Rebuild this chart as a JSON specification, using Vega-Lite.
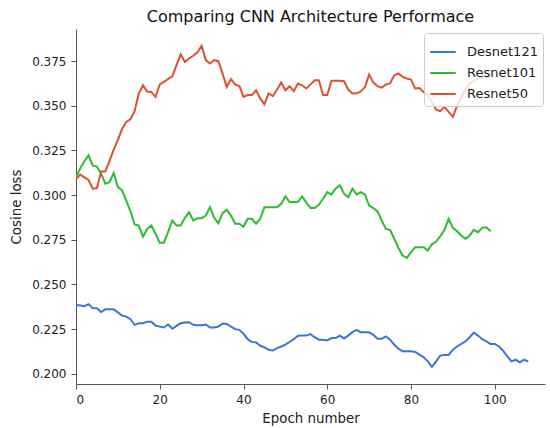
{
  "$schema": "https://vega.github.io/schema/vega-lite/v6.json",
  "autosize": "none",
  "width": 469,
  "height": 355,
  "padding": {"left": 76, "top": 29, "right": 5, "bottom": 44},
  "config": {
    "font": "DejaVu Sans",
    "view": {"stroke": null},
    "axis": {"grid": false, "domainColor": "#555", "tickColor": "#555", "tickSize": 5, "labelColor": "#222", "labelFontSize": 12, "titleFontSize": 13.4, "titleFontWeight": "normal", "titleColor": "#222", "labelPadding": 5}
  },
  "title": {"text": "Comparing CNN Architecture Performace", "fontSize": 16, "fontWeight": "normal", "color": "#111", "offset": 4, "anchor": "middle"},
  "data": {"values": [
{"epoch":0,"loss":0.2385,"model":"Desnet121"},{"epoch":1,"loss":0.2382,"model":"Desnet121"},{"epoch":2,"loss":0.2379,"model":"Desnet121"},{"epoch":3,"loss":0.239,"model":"Desnet121"},{"epoch":4,"loss":0.2367,"model":"Desnet121"},{"epoch":5,"loss":0.2367,"model":"Desnet121"},{"epoch":6,"loss":0.2346,"model":"Desnet121"},{"epoch":7,"loss":0.2361,"model":"Desnet121"},{"epoch":8,"loss":0.2361,"model":"Desnet121"},{"epoch":9,"loss":0.2361,"model":"Desnet121"},
{"epoch":10,"loss":0.2344,"model":"Desnet121"},{"epoch":11,"loss":0.2326,"model":"Desnet121"},{"epoch":12,"loss":0.232,"model":"Desnet121"},{"epoch":13,"loss":0.2306,"model":"Desnet121"},{"epoch":14,"loss":0.2274,"model":"Desnet121"},{"epoch":15,"loss":0.2283,"model":"Desnet121"},{"epoch":16,"loss":0.2283,"model":"Desnet121"},{"epoch":17,"loss":0.2292,"model":"Desnet121"},{"epoch":18,"loss":0.2292,"model":"Desnet121"},{"epoch":19,"loss":0.227,"model":"Desnet121"},
{"epoch":20,"loss":0.2264,"model":"Desnet121"},{"epoch":21,"loss":0.2259,"model":"Desnet121"},{"epoch":22,"loss":0.2276,"model":"Desnet121"},{"epoch":23,"loss":0.2252,"model":"Desnet121"},{"epoch":24,"loss":0.2268,"model":"Desnet121"},{"epoch":25,"loss":0.2283,"model":"Desnet121"},{"epoch":26,"loss":0.2287,"model":"Desnet121"},{"epoch":27,"loss":0.2289,"model":"Desnet121"},{"epoch":28,"loss":0.2274,"model":"Desnet121"},{"epoch":29,"loss":0.2272,"model":"Desnet121"},
{"epoch":30,"loss":0.2272,"model":"Desnet121"},{"epoch":31,"loss":0.2276,"model":"Desnet121"},{"epoch":32,"loss":0.2259,"model":"Desnet121"},{"epoch":33,"loss":0.2259,"model":"Desnet121"},{"epoch":34,"loss":0.2264,"model":"Desnet121"},{"epoch":35,"loss":0.2281,"model":"Desnet121"},{"epoch":36,"loss":0.2279,"model":"Desnet121"},{"epoch":37,"loss":0.2264,"model":"Desnet121"},{"epoch":38,"loss":0.225,"model":"Desnet121"},{"epoch":39,"loss":0.2246,"model":"Desnet121"},
{"epoch":40,"loss":0.2224,"model":"Desnet121"},{"epoch":41,"loss":0.2194,"model":"Desnet121"},{"epoch":42,"loss":0.2178,"model":"Desnet121"},{"epoch":43,"loss":0.2176,"model":"Desnet121"},{"epoch":44,"loss":0.2157,"model":"Desnet121"},{"epoch":45,"loss":0.2148,"model":"Desnet121"},{"epoch":46,"loss":0.2135,"model":"Desnet121"},{"epoch":47,"loss":0.2131,"model":"Desnet121"},{"epoch":48,"loss":0.2144,"model":"Desnet121"},{"epoch":49,"loss":0.2153,"model":"Desnet121"},
{"epoch":50,"loss":0.2163,"model":"Desnet121"},{"epoch":51,"loss":0.2178,"model":"Desnet121"},{"epoch":52,"loss":0.2194,"model":"Desnet121"},{"epoch":53,"loss":0.2213,"model":"Desnet121"},{"epoch":54,"loss":0.2214,"model":"Desnet121"},{"epoch":55,"loss":0.2214,"model":"Desnet121"},{"epoch":56,"loss":0.2222,"model":"Desnet121"},{"epoch":57,"loss":0.2205,"model":"Desnet121"},{"epoch":58,"loss":0.2191,"model":"Desnet121"},{"epoch":59,"loss":0.2191,"model":"Desnet121"},
{"epoch":60,"loss":0.2187,"model":"Desnet121"},{"epoch":61,"loss":0.22,"model":"Desnet121"},{"epoch":62,"loss":0.22,"model":"Desnet121"},{"epoch":63,"loss":0.2214,"model":"Desnet121"},{"epoch":64,"loss":0.2198,"model":"Desnet121"},{"epoch":65,"loss":0.2214,"model":"Desnet121"},{"epoch":66,"loss":0.2233,"model":"Desnet121"},{"epoch":67,"loss":0.2246,"model":"Desnet121"},{"epoch":68,"loss":0.2233,"model":"Desnet121"},{"epoch":69,"loss":0.2233,"model":"Desnet121"},
{"epoch":70,"loss":0.2233,"model":"Desnet121"},{"epoch":71,"loss":0.2218,"model":"Desnet121"},{"epoch":72,"loss":0.2196,"model":"Desnet121"},{"epoch":73,"loss":0.2196,"model":"Desnet121"},{"epoch":74,"loss":0.2209,"model":"Desnet121"},{"epoch":75,"loss":0.2191,"model":"Desnet121"},{"epoch":76,"loss":0.2163,"model":"Desnet121"},{"epoch":77,"loss":0.2141,"model":"Desnet121"},{"epoch":78,"loss":0.2126,"model":"Desnet121"},{"epoch":79,"loss":0.2126,"model":"Desnet121"},
{"epoch":80,"loss":0.2126,"model":"Desnet121"},{"epoch":81,"loss":0.2122,"model":"Desnet121"},{"epoch":82,"loss":0.2107,"model":"Desnet121"},{"epoch":83,"loss":0.2094,"model":"Desnet121"},{"epoch":84,"loss":0.207,"model":"Desnet121"},{"epoch":85,"loss":0.2039,"model":"Desnet121"},{"epoch":86,"loss":0.207,"model":"Desnet121"},{"epoch":87,"loss":0.2102,"model":"Desnet121"},{"epoch":88,"loss":0.2106,"model":"Desnet121"},{"epoch":89,"loss":0.2106,"model":"Desnet121"},
{"epoch":90,"loss":0.2135,"model":"Desnet121"},{"epoch":91,"loss":0.2153,"model":"Desnet121"},{"epoch":92,"loss":0.2167,"model":"Desnet121"},{"epoch":93,"loss":0.2181,"model":"Desnet121"},{"epoch":94,"loss":0.2205,"model":"Desnet121"},{"epoch":95,"loss":0.2231,"model":"Desnet121"},{"epoch":96,"loss":0.2214,"model":"Desnet121"},{"epoch":97,"loss":0.2194,"model":"Desnet121"},{"epoch":98,"loss":0.2181,"model":"Desnet121"},{"epoch":99,"loss":0.2167,"model":"Desnet121"},
{"epoch":100,"loss":0.2167,"model":"Desnet121"},{"epoch":101,"loss":0.2153,"model":"Desnet121"},{"epoch":102,"loss":0.2129,"model":"Desnet121"},{"epoch":103,"loss":0.2098,"model":"Desnet121"},{"epoch":104,"loss":0.207,"model":"Desnet121"},{"epoch":105,"loss":0.2079,"model":"Desnet121"},{"epoch":106,"loss":0.2064,"model":"Desnet121"},{"epoch":107,"loss":0.2079,"model":"Desnet121"},{"epoch":108,"loss":0.207,"model":"Desnet121"},
{"epoch":0,"loss":0.31,"model":"Resnet101"},{"epoch":1,"loss":0.315,"model":"Resnet101"},{"epoch":2,"loss":0.319,"model":"Resnet101"},{"epoch":3,"loss":0.3223,"model":"Resnet101"},{"epoch":4,"loss":0.3165,"model":"Resnet101"},{"epoch":5,"loss":0.316,"model":"Resnet101"},{"epoch":6,"loss":0.312,"model":"Resnet101"},{"epoch":7,"loss":0.3064,"model":"Resnet101"},{"epoch":8,"loss":0.3073,"model":"Resnet101"},{"epoch":9,"loss":0.3124,"model":"Resnet101"},
{"epoch":10,"loss":0.3045,"model":"Resnet101"},{"epoch":11,"loss":0.3027,"model":"Resnet101"},{"epoch":12,"loss":0.297,"model":"Resnet101"},{"epoch":13,"loss":0.291,"model":"Resnet101"},{"epoch":14,"loss":0.2836,"model":"Resnet101"},{"epoch":15,"loss":0.283,"model":"Resnet101"},{"epoch":16,"loss":0.2768,"model":"Resnet101"},{"epoch":17,"loss":0.2811,"model":"Resnet101"},{"epoch":18,"loss":0.283,"model":"Resnet101"},{"epoch":19,"loss":0.2784,"model":"Resnet101"},
{"epoch":20,"loss":0.2733,"model":"Resnet101"},{"epoch":21,"loss":0.2733,"model":"Resnet101"},{"epoch":22,"loss":0.2795,"model":"Resnet101"},{"epoch":23,"loss":0.2858,"model":"Resnet101"},{"epoch":24,"loss":0.283,"model":"Resnet101"},{"epoch":25,"loss":0.283,"model":"Resnet101"},{"epoch":26,"loss":0.2873,"model":"Resnet101"},{"epoch":27,"loss":0.2905,"model":"Resnet101"},{"epoch":28,"loss":0.2858,"model":"Resnet101"},{"epoch":29,"loss":0.2871,"model":"Resnet101"},
{"epoch":30,"loss":0.2871,"model":"Resnet101"},{"epoch":31,"loss":0.2886,"model":"Resnet101"},{"epoch":32,"loss":0.2933,"model":"Resnet101"},{"epoch":33,"loss":0.2873,"model":"Resnet101"},{"epoch":34,"loss":0.2843,"model":"Resnet101"},{"epoch":35,"loss":0.2899,"model":"Resnet101"},{"epoch":36,"loss":0.2918,"model":"Resnet101"},{"epoch":37,"loss":0.2886,"model":"Resnet101"},{"epoch":38,"loss":0.284,"model":"Resnet101"},{"epoch":39,"loss":0.284,"model":"Resnet101"},
{"epoch":40,"loss":0.2823,"model":"Resnet101"},{"epoch":41,"loss":0.2868,"model":"Resnet101"},{"epoch":42,"loss":0.2868,"model":"Resnet101"},{"epoch":43,"loss":0.284,"model":"Resnet101"},{"epoch":44,"loss":0.2868,"model":"Resnet101"},{"epoch":45,"loss":0.2933,"model":"Resnet101"},{"epoch":46,"loss":0.2933,"model":"Resnet101"},{"epoch":47,"loss":0.2933,"model":"Resnet101"},{"epoch":48,"loss":0.2933,"model":"Resnet101"},{"epoch":49,"loss":0.2952,"model":"Resnet101"},
{"epoch":50,"loss":0.2993,"model":"Resnet101"},{"epoch":51,"loss":0.2961,"model":"Resnet101"},{"epoch":52,"loss":0.2961,"model":"Resnet101"},{"epoch":53,"loss":0.2962,"model":"Resnet101"},{"epoch":54,"loss":0.2993,"model":"Resnet101"},{"epoch":55,"loss":0.2958,"model":"Resnet101"},{"epoch":56,"loss":0.2928,"model":"Resnet101"},{"epoch":57,"loss":0.2928,"model":"Resnet101"},{"epoch":58,"loss":0.2946,"model":"Resnet101"},{"epoch":59,"loss":0.298,"model":"Resnet101"},
{"epoch":60,"loss":0.3017,"model":"Resnet101"},{"epoch":61,"loss":0.3004,"model":"Resnet101"},{"epoch":62,"loss":0.3036,"model":"Resnet101"},{"epoch":63,"loss":0.3055,"model":"Resnet101"},{"epoch":64,"loss":0.3008,"model":"Resnet101"},{"epoch":65,"loss":0.2989,"model":"Resnet101"},{"epoch":66,"loss":0.3036,"model":"Resnet101"},{"epoch":67,"loss":0.3004,"model":"Resnet101"},{"epoch":68,"loss":0.3017,"model":"Resnet101"},{"epoch":69,"loss":0.3004,"model":"Resnet101"},
{"epoch":70,"loss":0.2942,"model":"Resnet101"},{"epoch":71,"loss":0.2928,"model":"Resnet101"},{"epoch":72,"loss":0.2909,"model":"Resnet101"},{"epoch":73,"loss":0.2858,"model":"Resnet101"},{"epoch":74,"loss":0.2811,"model":"Resnet101"},{"epoch":75,"loss":0.2806,"model":"Resnet101"},{"epoch":76,"loss":0.2756,"model":"Resnet101"},{"epoch":77,"loss":0.2705,"model":"Resnet101"},{"epoch":78,"loss":0.2662,"model":"Resnet101"},{"epoch":79,"loss":0.2649,"model":"Resnet101"},
{"epoch":80,"loss":0.268,"model":"Resnet101"},{"epoch":81,"loss":0.2709,"model":"Resnet101"},{"epoch":82,"loss":0.2709,"model":"Resnet101"},{"epoch":83,"loss":0.2709,"model":"Resnet101"},{"epoch":84,"loss":0.269,"model":"Resnet101"},{"epoch":85,"loss":0.2725,"model":"Resnet101"},{"epoch":86,"loss":0.274,"model":"Resnet101"},{"epoch":87,"loss":0.277,"model":"Resnet101"},{"epoch":88,"loss":0.2806,"model":"Resnet101"},{"epoch":89,"loss":0.2868,"model":"Resnet101"},
{"epoch":90,"loss":0.2817,"model":"Resnet101"},{"epoch":91,"loss":0.2798,"model":"Resnet101"},{"epoch":92,"loss":0.2774,"model":"Resnet101"},{"epoch":93,"loss":0.2756,"model":"Resnet101"},{"epoch":94,"loss":0.2774,"model":"Resnet101"},{"epoch":95,"loss":0.2806,"model":"Resnet101"},{"epoch":96,"loss":0.2793,"model":"Resnet101"},{"epoch":97,"loss":0.2817,"model":"Resnet101"},{"epoch":98,"loss":0.282,"model":"Resnet101"},{"epoch":99,"loss":0.2798,"model":"Resnet101"},
{"epoch":0,"loss":0.309,"model":"Resnet50"},{"epoch":1,"loss":0.3115,"model":"Resnet50"},{"epoch":2,"loss":0.31,"model":"Resnet50"},{"epoch":3,"loss":0.3085,"model":"Resnet50"},{"epoch":4,"loss":0.3036,"model":"Resnet50"},{"epoch":5,"loss":0.304,"model":"Resnet50"},{"epoch":6,"loss":0.3133,"model":"Resnet50"},{"epoch":7,"loss":0.3133,"model":"Resnet50"},{"epoch":8,"loss":0.319,"model":"Resnet50"},{"epoch":9,"loss":0.3255,"model":"Resnet50"},
{"epoch":10,"loss":0.331,"model":"Resnet50"},{"epoch":11,"loss":0.337,"model":"Resnet50"},{"epoch":12,"loss":0.341,"model":"Resnet50"},{"epoch":13,"loss":0.3425,"model":"Resnet50"},{"epoch":14,"loss":0.347,"model":"Resnet50"},{"epoch":15,"loss":0.357,"model":"Resnet50"},{"epoch":16,"loss":0.3615,"model":"Resnet50"},{"epoch":17,"loss":0.358,"model":"Resnet50"},{"epoch":18,"loss":0.3578,"model":"Resnet50"},{"epoch":19,"loss":0.355,"model":"Resnet50"},
{"epoch":20,"loss":0.362,"model":"Resnet50"},{"epoch":21,"loss":0.3634,"model":"Resnet50"},{"epoch":22,"loss":0.365,"model":"Resnet50"},{"epoch":23,"loss":0.3665,"model":"Resnet50"},{"epoch":24,"loss":0.3728,"model":"Resnet50"},{"epoch":25,"loss":0.3788,"model":"Resnet50"},{"epoch":26,"loss":0.3746,"model":"Resnet50"},{"epoch":27,"loss":0.3765,"model":"Resnet50"},{"epoch":28,"loss":0.378,"model":"Resnet50"},{"epoch":29,"loss":0.38,"model":"Resnet50"},
{"epoch":30,"loss":0.3836,"model":"Resnet50"},{"epoch":31,"loss":0.3756,"model":"Resnet50"},{"epoch":32,"loss":0.3737,"model":"Resnet50"},{"epoch":33,"loss":0.3756,"model":"Resnet50"},{"epoch":34,"loss":0.375,"model":"Resnet50"},{"epoch":35,"loss":0.368,"model":"Resnet50"},{"epoch":36,"loss":0.3606,"model":"Resnet50"},{"epoch":37,"loss":0.365,"model":"Resnet50"},{"epoch":38,"loss":0.362,"model":"Resnet50"},{"epoch":39,"loss":0.3611,"model":"Resnet50"},
{"epoch":40,"loss":0.355,"model":"Resnet50"},{"epoch":41,"loss":0.356,"model":"Resnet50"},{"epoch":42,"loss":0.356,"model":"Resnet50"},{"epoch":43,"loss":0.3587,"model":"Resnet50"},{"epoch":44,"loss":0.354,"model":"Resnet50"},{"epoch":45,"loss":0.3509,"model":"Resnet50"},{"epoch":46,"loss":0.3569,"model":"Resnet50"},{"epoch":47,"loss":0.3554,"model":"Resnet50"},{"epoch":48,"loss":0.3591,"model":"Resnet50"},{"epoch":49,"loss":0.363,"model":"Resnet50"},
{"epoch":50,"loss":0.3587,"model":"Resnet50"},{"epoch":51,"loss":0.361,"model":"Resnet50"},{"epoch":52,"loss":0.3582,"model":"Resnet50"},{"epoch":53,"loss":0.3625,"model":"Resnet50"},{"epoch":54,"loss":0.3615,"model":"Resnet50"},{"epoch":55,"loss":0.3597,"model":"Resnet50"},{"epoch":56,"loss":0.362,"model":"Resnet50"},{"epoch":57,"loss":0.3643,"model":"Resnet50"},{"epoch":58,"loss":0.3643,"model":"Resnet50"},{"epoch":59,"loss":0.356,"model":"Resnet50"},
{"epoch":60,"loss":0.356,"model":"Resnet50"},{"epoch":61,"loss":0.364,"model":"Resnet50"},{"epoch":62,"loss":0.364,"model":"Resnet50"},{"epoch":63,"loss":0.364,"model":"Resnet50"},{"epoch":64,"loss":0.3638,"model":"Resnet50"},{"epoch":65,"loss":0.3591,"model":"Resnet50"},{"epoch":66,"loss":0.3569,"model":"Resnet50"},{"epoch":67,"loss":0.357,"model":"Resnet50"},{"epoch":68,"loss":0.358,"model":"Resnet50"},{"epoch":69,"loss":0.3605,"model":"Resnet50"},
{"epoch":70,"loss":0.3675,"model":"Resnet50"},{"epoch":71,"loss":0.363,"model":"Resnet50"},{"epoch":72,"loss":0.361,"model":"Resnet50"},{"epoch":73,"loss":0.3602,"model":"Resnet50"},{"epoch":74,"loss":0.362,"model":"Resnet50"},{"epoch":75,"loss":0.3625,"model":"Resnet50"},{"epoch":76,"loss":0.3671,"model":"Resnet50"},{"epoch":77,"loss":0.3681,"model":"Resnet50"},{"epoch":78,"loss":0.3662,"model":"Resnet50"},{"epoch":79,"loss":0.3653,"model":"Resnet50"},
{"epoch":80,"loss":0.3647,"model":"Resnet50"},{"epoch":81,"loss":0.3597,"model":"Resnet50"},{"epoch":82,"loss":0.36,"model":"Resnet50"},{"epoch":83,"loss":0.3578,"model":"Resnet50"},{"epoch":84,"loss":0.356,"model":"Resnet50"},{"epoch":85,"loss":0.352,"model":"Resnet50"},{"epoch":86,"loss":0.3479,"model":"Resnet50"},{"epoch":87,"loss":0.347,"model":"Resnet50"},{"epoch":88,"loss":0.3494,"model":"Resnet50"},{"epoch":89,"loss":0.3466,"model":"Resnet50"},
{"epoch":90,"loss":0.3438,"model":"Resnet50"},{"epoch":91,"loss":0.35,"model":"Resnet50"},{"epoch":92,"loss":0.355,"model":"Resnet50"},{"epoch":93,"loss":0.359,"model":"Resnet50"},{"epoch":94,"loss":0.3625,"model":"Resnet50"},{"epoch":95,"loss":0.364,"model":"Resnet50"},{"epoch":96,"loss":0.3653,"model":"Resnet50"},{"epoch":97,"loss":0.366,"model":"Resnet50"},{"epoch":98,"loss":0.3662,"model":"Resnet50"},{"epoch":99,"loss":0.3662,"model":"Resnet50"}
  ]},
  "mark": {"type": "line", "strokeWidth": 2, "clip": true},
  "encoding": {
    "x": {"field": "epoch", "type": "quantitative", "title": "Epoch number",
      "scale": {"domain": [0, 112], "nice": false, "zero": false},
      "axis": {"values": [0, 20, 40, 60, 80, 100], "titlePadding": 6}},
    "y": {"field": "loss", "type": "quantitative", "title": "Cosine loss",
      "scale": {"domain": [0.1943, 0.393], "nice": false, "zero": false},
      "axis": {"values": [0.2, 0.225, 0.25, 0.275, 0.3, 0.325, 0.35, 0.375], "format": ".3f", "titlePadding": 8}},
    "color": {"field": "model", "type": "nominal",
      "scale": {"domain": ["Desnet121", "Resnet101", "Resnet50"], "range": ["#3a75d8", "#2cbc2c", "#e0502e"]},
      "legend": {"title": null, "orient": "none", "legendX": 348, "legendY": 4, "symbolType": "stroke", "symbolStrokeWidth": 2, "symbolSize": 650, "labelFontSize": 13, "labelColor": "#222", "fillColor": "rgba(255,255,255,0.8)", "strokeColor": "#ccc", "padding": 5, "cornerRadius": 3, "rowPadding": 0, "labelOffset": 10}
    }
  }
}
